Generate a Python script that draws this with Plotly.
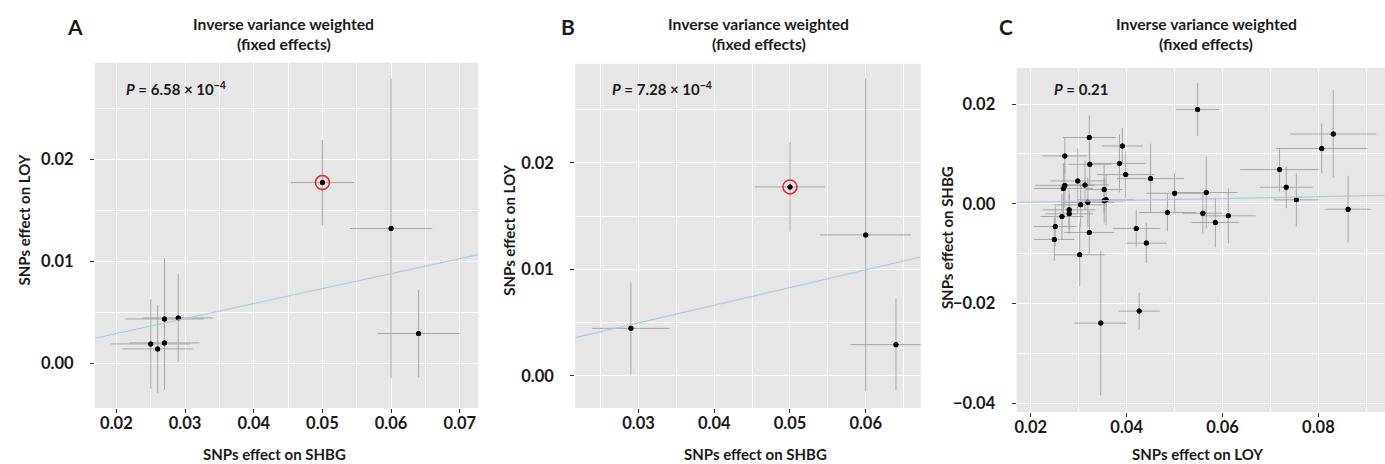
import plotly.graph_objects as go

W, H = 1385, 464

# ---------------- data ----------------
# Panel A: SHBG -> LOY (all instruments)
a_bx = [0.050, 0.060, 0.064, 0.027, 0.029, 0.025, 0.026, 0.027]
a_by = [0.01775, 0.01324, 0.00294, 0.00437, 0.00447, 0.00192, 0.00143, 0.00202]
a_sx = [0.0046, 0.0060, 0.0060, 0.0057, 0.0051, 0.0058, 0.0051, 0.0051]
a_sy = [0.0042, 0.0147, 0.0043, 0.0060, 0.0043, 0.0044, 0.0043, 0.0046]
a_slope = 0.147
a_p = "<i>P</i> = 6.58 × 10<sup>−4</sup>"

# Panel B: SHBG -> LOY (reduced instrument set)
b_bx = [0.029, 0.050, 0.060, 0.064]
b_by = [0.00447, 0.01775, 0.01324, 0.00294]
b_sx = [0.0051, 0.0046, 0.0060, 0.0060]
b_sy = [0.0043, 0.0042, 0.0147, 0.0043]
b_slope = 0.166
b_p = "<i>P</i> = 7.28 × 10<sup>−4</sup>"

# highlighted variant (A and B)
hl_x = [0.050]
hl_y = [0.01775]

# Panel C: LOY -> SHBG
c_bx = [0.0548, 0.0831, 0.0807, 0.0719, 0.0733, 0.0754, 0.0862, 0.0322, 0.0391, 0.0271,
        0.0323, 0.0385, 0.0398, 0.0450, 0.0298, 0.0313, 0.0271, 0.0268, 0.0353, 0.0357,
        0.0353, 0.0319, 0.0304, 0.0500, 0.0566, 0.0485, 0.0559, 0.0585, 0.0612, 0.0265,
        0.0280, 0.0280, 0.0251, 0.0249, 0.0322, 0.0420, 0.0441, 0.0302, 0.0426, 0.0346]
c_by = [0.0189, 0.0140, 0.0111, 0.00687, 0.00333, 0.0008, -0.00107, 0.0133, 0.0116, 0.0096,
        0.00793, 0.0081, 0.00587, 0.00507, 0.0046, 0.0038, 0.0037, 0.0031, 0.00287, 0.0008,
        0.0006, 0.0003, -0.0002, 0.00213, 0.00227, -0.00173, -0.00187, -0.00373, -0.0024, -0.00253,
        -0.0012, -0.0020, -0.00453, -0.00713, -0.00573, -0.00493, -0.00787, -0.0102, -0.0215, -0.0239]
c_sx = [0.0045, 0.0090, 0.0095, 0.0082, 0.0055, 0.0048, 0.0047, 0.0055, 0.0043, 0.0047,
        0.0045, 0.0054, 0.0060, 0.0070, 0.0057, 0.0050, 0.0062, 0.0062, 0.0038, 0.0059,
        0.0045, 0.0055, 0.0055, 0.0059, 0.0065, 0.0059, 0.0042, 0.0050, 0.0057, 0.0045,
        0.0055, 0.0050, 0.0045, 0.0042, 0.0052, 0.0049, 0.0043, 0.0052, 0.0043, 0.0055]
c_sy = [0.0053, 0.0088, 0.0050, 0.0044, 0.0042, 0.0053, 0.0067, 0.0044, 0.0036, 0.0036,
        0.0043, 0.0058, 0.0047, 0.0070, 0.0065, 0.0050, 0.0045, 0.0050, 0.0050, 0.0050,
        0.0045, 0.0050, 0.0045, 0.0040, 0.0072, 0.0038, 0.0042, 0.0050, 0.0055, 0.0045,
        0.0040, 0.0040, 0.0040, 0.0043, 0.0043, 0.0037, 0.0040, 0.0063, 0.0037, 0.0145]
c_slope = 0.018
c_p = "<i>P</i> = 0.21"

title_l1 = "Inverse variance weighted"
title_l2 = "(fixed effects)"

# ---------------- styling ----------------
FONT = "Lato"
TXT = "#1a1a1a"
BG = "#E6E6E6"
ERR = "#A6A6A6"
LINE = "#A6CEE3"


def px(x):
    return x / W


def py(y):
    return 1 - y / H


# panel boxes in pixels: (left, right, top, bottom), axis ranges
panels = [
    dict(box=(93, 477, 63, 409), xr=(0.01686, 0.0727), yr=(-0.00438, 0.0295),
         xt=[0.02, 0.03, 0.04, 0.05, 0.06, 0.07], yt=[0.0, 0.01, 0.02],
         xminor=0.005, yminor=0.005,
         bx=a_bx, by=a_by, sx=a_sx, sy=a_sy, slope=a_slope, p=a_p, hl=True,
         letter="A", lx=73, tx=282, xt_title="SNPs effect on SHBG", xtx=273,
         yt_title="SNPs effect on LOY", ytx=22, yty=220, plx=122),
    dict(box=(574, 920, 64, 409), xr=(0.02164, 0.06726), yr=(-0.00302, 0.0293),
         xt=[0.03, 0.04, 0.05, 0.06], yt=[0.0, 0.01, 0.02],
         xminor=0.005, yminor=0.005,
         bx=b_bx, by=b_by, sx=b_sx, sy=b_sy, slope=b_slope, p=b_p, hl=True,
         letter="B", lx=567, tx=758, xt_title="SNPs effect on SHBG", xtx=755,
         yt_title="SNPs effect on LOY", ytx=507, yty=231, plx=609),
    dict(box=(1016, 1385, 68, 413), xr=(0.01702, 0.0939), yr=(-0.04174, 0.02726),
         xt=[0.02, 0.04, 0.06, 0.08], yt=[-0.04, -0.02, 0.0, 0.02],
         xminor=0.01, yminor=0.01,
         bx=c_bx, by=c_by, sx=c_sx, sy=c_sy, slope=c_slope, p=c_p, hl=False,
         letter="C", lx=1005, tx=1206, xt_title="SNPs effect on LOY", xtx=1197,
         yt_title="SNPs effect on SHBG", ytx=947, yty=238, plx=1052),
]


def fmt(v):
    s = f"{abs(v):.2f}"
    return ("−" + s) if v < 0 else s


fig = go.Figure()
annotations = []
shapes = []
layout = dict(
    width=W, height=H,
    margin=dict(l=0, r=0, t=0, b=0),
    paper_bgcolor="white",
    plot_bgcolor="rgba(0,0,0,0)",
    showlegend=False,
    font=dict(family=FONT, color=TXT),
)

for i, p in enumerate(panels):
    n = "" if i == 0 else str(i + 1)
    xa, ya = "x" + n, "y" + n
    l, r, t, b = p["box"]
    axis_common = dict(
        showline=False, zeroline=False, showgrid=True,
        gridcolor="white", gridwidth=1.2,
        ticks="outside", ticklen=4, tickwidth=1, tickcolor="#333333",
        tickfont=dict(family=FONT, size=16.5, color=TXT, weight="bold"),
        fixedrange=True,
    )
    layout["xaxis" + n] = dict(
        axis_common, domain=[px(l), px(r)], range=list(p["xr"]), anchor=ya,
        tickvals=p["xt"], ticktext=[fmt(v) for v in p["xt"]],
        ticklabelstandoff=-4,
        minor=dict(dtick=p["xminor"], tick0=0, showgrid=True,
                   gridcolor="white", gridwidth=0.6, ticklen=0),
    )
    layout["yaxis" + n] = dict(
        axis_common, domain=[py(b), py(t)], range=list(p["yr"]), anchor=xa,
        tickvals=p["yt"], ticktext=[fmt(v) for v in p["yt"]],
        ticklabelstandoff=13,
        minor=dict(dtick=p["yminor"], tick0=0, showgrid=True,
                   gridcolor="white", gridwidth=0.6, ticklen=0),
    )
    shapes.append(dict(
        type="rect", xref="paper", yref="paper",
        x0=px(l), x1=px(r), y0=py(b), y1=py(t),
        fillcolor=BG, line=dict(width=0), layer="below"))

    # SNP estimates with standard-error whiskers
    fig.add_trace(go.Scatter(
        x=p["bx"], y=p["by"], mode="markers", xaxis=xa, yaxis=ya,
        marker=dict(color="black", size=5),
        error_x=dict(type="data", array=p["sx"], symmetric=True,
                     width=0, thickness=1, color=ERR),
        error_y=dict(type="data", array=p["sy"], symmetric=True,
                     width=0, thickness=1, color=ERR),
        hoverinfo="skip",
    ))
    # dots again, on top of every whisker
    fig.add_trace(go.Scatter(
        x=p["bx"], y=p["by"], mode="markers", xaxis=xa, yaxis=ya,
        marker=dict(color="black", size=5), hoverinfo="skip"))
    if p["hl"]:
        fig.add_trace(go.Scatter(
            x=hl_x, y=hl_y, mode="markers", xaxis=xa, yaxis=ya,
            marker=dict(symbol="circle-open", size=14, color="#E8232A",
                        line=dict(width=1.5, color="#E8232A")),
            hoverinfo="skip"))
    # IVW fit through the origin
    x0, x1 = p["xr"]
    fig.add_trace(go.Scatter(
        x=[x0, x1], y=[p["slope"] * x0, p["slope"] * x1], mode="lines",
        xaxis=xa, yaxis=ya, line=dict(color=LINE, width=1.2),
        hoverinfo="skip"))

    bold = dict(family=FONT, color=TXT, weight="bold")
    annotations += [
        dict(text=p["letter"], x=px(p["lx"]), y=py(27), xref="paper", yref="paper",
             showarrow=False, font=dict(bold, size=21), xanchor="center", yanchor="middle"),
        dict(text=title_l1, x=px(p["tx"]), y=py(24), xref="paper", yref="paper",
             showarrow=False, font=dict(bold, size=15.7), xanchor="center", yanchor="middle"),
        dict(text=title_l2, x=px(p["tx"]), y=py(44), xref="paper", yref="paper",
             showarrow=False, font=dict(bold, size=15.7), xanchor="center", yanchor="middle"),
        dict(text=p["p"], x=px(p["plx"]), y=py(89), xref="paper", yref="paper",
             showarrow=False, font=dict(bold, size=15), xanchor="left", yanchor="middle"),
        dict(text=p["xt_title"], x=px(p["xtx"]), y=py(455), xref="paper", yref="paper",
             showarrow=False, font=dict(bold, size=15), xanchor="center", yanchor="middle"),
        dict(text=p["yt_title"], x=px(p["ytx"]), y=py(p["yty"]), xref="paper", yref="paper",
             showarrow=False, font=dict(bold, size=15), textangle=-90,
             xanchor="center", yanchor="middle"),
    ]

layout["annotations"] = annotations
layout["shapes"] = shapes
fig.update_layout(**layout)
fig.write_html("out.html")
